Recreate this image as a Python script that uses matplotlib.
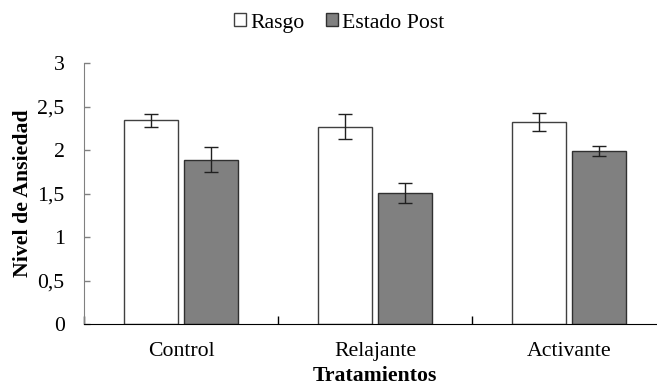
import matplotlib
matplotlib.use("Agg")
import matplotlib.pyplot as plt
import numpy as np
from matplotlib.patches import Patch

categories = ["Control", "Relajante", "Activante"]
series_names = ["Rasgo", "Estado Post"]
rasgo = [2.34, 2.27, 2.32]
rasgo_err = [0.075, 0.14, 0.105]
estado = [1.89, 1.51, 1.99]
estado_err = [0.14, 0.115, 0.06]
yticks = [0, 0.5, 1, 1.5, 2, 2.5, 3]
ytick_labels = ["0", "0,5", "1", "1,5", "2", "2,5", "3"]

plt.rcParams['font.family'] = ['Liberation Serif', 'DejaVu Serif']
FS = 15.7

W, H = 657, 387
fig = plt.figure(figsize=(W / 100, H / 100), dpi=100)
ax = fig.add_axes([84 / W, (H - 324) / H, (666 - 84) / W, (324 - 63) / H])

x = np.arange(len(categories))
bw = 0.281
off = 0.154
ax.bar(x - off, rasgo, bw, color="white", edgecolor="#404040", linewidth=1.0, zorder=2)
ax.bar(x + off, estado, bw, color="#808080", edgecolor="#303030", linewidth=1.0, zorder=2)
ax.errorbar(x - off, rasgo, yerr=rasgo_err, fmt="none", ecolor="#202020",
            elinewidth=1.0, capsize=5, capthick=1.0, zorder=3)
ax.errorbar(x + off, estado, yerr=estado_err, fmt="none", ecolor="#202020",
            elinewidth=1.0, capsize=5, capthick=1.0, zorder=3)

ax.set_xlim(-0.5, 2.5)
ax.set_ylim(0, 3)
ax.set_yticks(yticks)
ax.set_yticklabels(ytick_labels, fontsize=FS)
ax.set_xticks(x)
ax.set_xticklabels(categories, fontsize=FS)
ax.tick_params(axis="x", which="major", length=0, pad=13.3)
ax.set_xticks([-0.5, 0.5, 1.5, 2.5], minor=True)
ax.tick_params(axis="x", which="minor", direction="in", length=6, color="black", width=1)
ax.tick_params(axis="y", direction="in", length=4, color="#808080", width=1, pad=14)

for s in ["top", "right"]:
    ax.spines[s].set_visible(False)
ax.spines["left"].set_color("#808080")
ax.spines["bottom"].set_color("black")

ax.set_ylabel("Nivel de Ansiedad", fontsize=FS, fontweight="bold", labelpad=3)
ax.set_xlabel("Tratamientos", fontsize=FS, fontweight="bold", labelpad=3.5)

handles = [Patch(facecolor="white", edgecolor="#404040", label=series_names[0]),
           Patch(facecolor="#808080", edgecolor="#303030", label=series_names[1])]
fig.legend(handles=handles, loc="center", bbox_to_anchor=(339 / W, 1 - 23 / H),
           ncol=2, frameon=False, fontsize=FS, handlelength=0.55, handleheight=0.55,
           handletextpad=0.18, columnspacing=1.0, borderpad=0)

fig.savefig("out.png", dpi=100)
